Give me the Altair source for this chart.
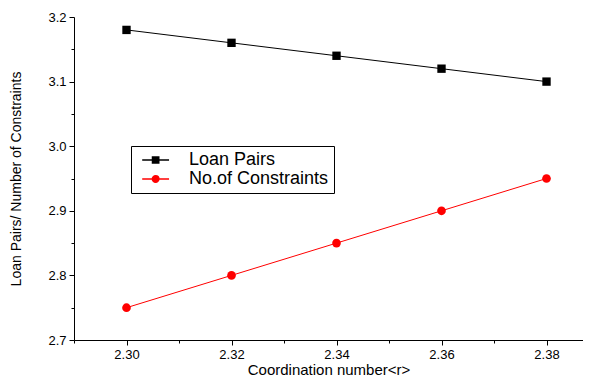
import altair as alt
import pandas as pd

# --- data ---
coord = [2.30, 2.32, 2.34, 2.36, 2.38]
loan_pairs = [3.18, 3.16, 3.14, 3.12, 3.10]
constraints = [2.75, 2.80, 2.85, 2.90, 2.95]
series_names = ["Loan Pairs", "No.of Constraints"]
series_colors = ["#000000", "#ff0000"]
x_major = [2.30, 2.32, 2.34, 2.36, 2.38]
x_minor = [2.29, 2.31, 2.33, 2.35, 2.37]
y_major = [2.7, 2.8, 2.9, 3.0, 3.1, 3.2]
y_minor = [2.75, 2.85, 2.95, 3.05, 3.15]

rows = []
for xv, a, b in zip(coord, loan_pairs, constraints):
    rows.append({"x": xv, "y": a, "series": series_names[0]})
    rows.append({"x": xv, "y": b, "series": series_names[1]})
df = pd.DataFrame(rows)

FONT = "Arial, Liberation Sans, sans-serif"
xs = alt.Scale(domain=[2.29, 2.38695], nice=False, zero=False)
ys = alt.Scale(domain=[2.7, 3.2], nice=False, zero=False)
cs = alt.Scale(domain=series_names, range=series_colors)

# legend symbols: line - marker - line (unit = half of sqrt(size))
legend_paths = [
    "M-0.56,0H1.42M2.83,0H4.81M1.5,-0.62H2.75V0.62H1.5Z",
    "M-0.56,0H1.42M2.83,0H4.81M2.77,0A0.65,0.65 0 1,1 1.47,0A0.65,0.65 0 1,1 2.77,0Z",
]
shape_leg = alt.Scale(domain=series_names, range=legend_paths)

base = alt.Chart(df)
lp = base.transform_filter(alt.datum.series == series_names[0])
nc = base.transform_filter(alt.datum.series == series_names[1])

line_lp = lp.mark_line(strokeWidth=1, color=series_colors[0]).encode(
    x=alt.X("x:Q", scale=xs,
            axis=alt.Axis(values=x_major, format=".2f", title="Coordination number<r>",
                          orient="bottom", grid=False, tickSize=5, labelPadding=3,
                          titlePadding=1, titleFontSize=15)),
    y=alt.Y("y:Q", scale=ys,
            axis=alt.Axis(values=y_major, format=".1f", title="Loan Pairs/ Number of Constraints",
                          orient="left", grid=False, tickSize=5, labelPadding=3,
                          titlePadding=24, titleFontSize=14)),
)
line_nc = nc.mark_line(strokeWidth=1, color=series_colors[1]).encode(
    x=alt.X("x:Q", scale=xs, axis=None),
    y=alt.Y("y:Q", scale=ys, axis=None),
)
sq = lp.mark_square(size=70, opacity=1, filled=True, color=series_colors[0]).encode(
    x=alt.X("x:Q", scale=xs, axis=None),
    y=alt.Y("y:Q", scale=ys, axis=None),
)
ci = nc.mark_circle(size=75, opacity=1, color=series_colors[1]).encode(
    x=alt.X("x:Q", scale=xs, axis=None),
    y=alt.Y("y:Q", scale=ys, axis=None),
)

leg = alt.Legend(
    title=None, orient="none", legendX=57, legendY=129, padding=5,
    strokeColor="#000000", fillColor="#ffffff", cornerRadius=0,
    labelFont=FONT, labelFontSize=18, labelColor="#000000",
    rowPadding=1, labelOffset=35,
)

# legend-only layer: its marks fall outside the y domain and are clipped away
legend_layer = base.mark_point(
    filled=True, size=256, strokeWidth=1, opacity=1, clip=True).encode(
    x=alt.X("x:Q", scale=xs, axis=None),
    y=alt.Y("x:Q", scale=ys, axis=None),
    fill=alt.Fill("series:N", scale=cs, legend=leg),
    stroke=alt.Stroke("series:N", scale=cs, legend=leg),
    shape=alt.Shape("series:N", scale=shape_leg, legend=leg),
)

minor = base.mark_point(opacity=0).encode(
    x=alt.X("x:Q", scale=xs,
            axis=alt.Axis(values=x_minor, labels=False, domain=False, title=None,
                          orient="bottom", grid=False, tickSize=3)),
    y=alt.Y("y:Q", scale=ys,
            axis=alt.Axis(values=y_minor, labels=False, domain=False, title=None,
                          orient="left", grid=False, tickSize=3)),
)

chart = alt.layer(line_lp, line_nc, sq, ci, legend_layer, minor).resolve_axis(
    x="independent", y="independent"
).properties(
    width=509, height=323,
    autosize=alt.AutoSizeParams(type="none"),
    padding={"left": 66, "top": 9, "right": 0, "bottom": 36},
).configure_view(strokeWidth=0).configure_axis(
    domainColor="#000000", tickColor="#000000", labelColor="#000000",
    titleColor="#000000", labelFont=FONT, titleFont=FONT, labelFontSize=13,
    titleFontWeight="normal", domainWidth=1, tickWidth=1,
)

chart.save("out.html", embed_options={"renderer": "svg", "actions": False})
